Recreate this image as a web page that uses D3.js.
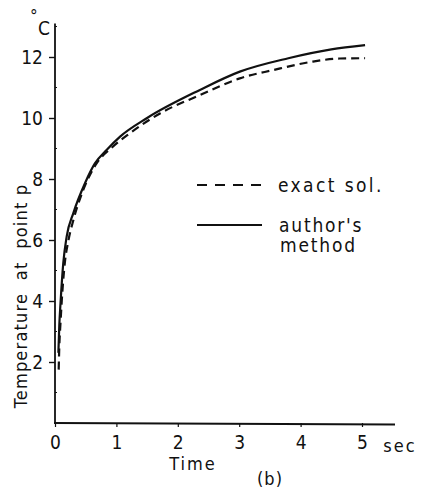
<!DOCTYPE html>
<html><head><meta charset="utf-8">
<script src="https://cdn.jsdelivr.net/npm/d3@7/dist/d3.min.js"></script>
<style>body{margin:0;background:#fff}svg{display:block}text{font-family:"DejaVu Sans Condensed","DejaVu Sans",sans-serif;font-stretch:condensed;fill:#111}</style>
</head><body>
<script>
const xTicks = [0,1,2,3,4,5];
const yTicks = [2,4,6,8,10,12];
const yMinor = [1,3,5,7,9,11,13];
const exactT = [0.06,0.07,0.09,0.11,0.16,0.22,0.30,0.46,0.68,0.92,1.22,1.71,2.36,3.01,3.55,4.2,4.64,5.05];
const exactV = [1.75,2.5,3.3,4.0,5.25,6.0,6.66,7.64,8.52,9.02,9.5,10.15,10.75,11.3,11.57,11.85,11.95,11.96];
const authT = [0.055,0.07,0.09,0.135,0.19,0.30,0.49,0.65,0.84,1.06,1.5,2.36,3.01,3.8,4.5,5.05];
const authV = [2.3,3.2,3.93,5.25,6.11,6.89,7.87,8.51,8.95,9.39,10.0,10.92,11.52,11.96,12.25,12.39];
const legendItems = ["exact sol.", "author's method"];

const W=430,H=490;
const svg=d3.select("body").append("svg").attr("width",W).attr("height",H);
const x=d3.scaleLinear().domain([0,5]).range([55,362]);
const y=d3.scaleLinear().domain([0,12]).range([423,57]);

// axes
const gx=svg.append("g").attr("transform","translate(0,423)")
  .call(d3.axisBottom(x).tickValues(xTicks).tickSize(4).tickPadding(9).tickFormat(d3.format("d")));
gx.select(".domain").remove();
svg.append("line").attr("x1",54).attr("x2",395).attr("y1",423).attr("y2",424.5).attr("stroke","#111").attr("stroke-width",1.8);
gx.selectAll("text").attr("font-size",19).attr("fill","#111");
gx.selectAll("line").attr("stroke","#111").attr("stroke-width",1.2);

const gy=svg.append("g").attr("transform","translate(55,0)")
  .call(d3.axisLeft(y).tickValues(yTicks).tickSize(6).tickPadding(6).tickFormat(d3.format("d")));
gy.select(".domain").remove();
svg.append("line").attr("x1",55).attr("x2",55).attr("y1",y(13.1)).attr("y2",424).attr("stroke","#111").attr("stroke-width",1.8);
gy.selectAll("text").attr("font-size",19).attr("fill","#111");
gy.selectAll("line").attr("stroke","#111").attr("stroke-width",1.4);
svg.append("g").selectAll("line").data(yMinor).join("line")
  .attr("x1",55).attr("x2",57).attr("y1",d=>y(d)).attr("y2",d=>y(d)).attr("stroke","#111").attr("stroke-width",1);

// labels
svg.append("text").attr("x",30).attr("y",22).attr("font-size",17).text("°");
svg.append("text").attr("x",38).attr("y",35).attr("font-size",19).text("C");
svg.append("text").attr("x",400).attr("y",452).attr("text-anchor","middle").attr("font-size",18).attr("letter-spacing",2).text("sec");
svg.append("text").attr("x",193).attr("y",470).attr("text-anchor","middle").attr("font-size",18).attr("letter-spacing",2).text("Time");
svg.append("text").attr("x",270).attr("y",485).attr("text-anchor","middle").attr("font-size",18).attr("letter-spacing",1).text("(b)");
svg.append("text").attr("transform","translate(27,296) rotate(-90)").attr("text-anchor","middle")
  .attr("font-size",18).attr("letter-spacing",1.2).attr("xml:space","preserve").text("Temperature  at  point p");

// curves
const line=d3.line().x(d=>x(d[0])).y(d=>y(d[1])).curve(d3.curveMonotoneX);
svg.append("path").datum(exactT.map((t,i)=>[t,exactV[i]])).attr("d",line)
  .attr("fill","none").attr("stroke","#111").attr("stroke-width",2.2).attr("stroke-dasharray","8,5");
svg.append("path").datum(authT.map((t,i)=>[t,authV[i]])).attr("d",line)
  .attr("fill","none").attr("stroke","#111").attr("stroke-width",2.2);

// legend
svg.append("line").attr("x1",197).attr("x2",262).attr("y1",185).attr("y2",185).attr("stroke","#111").attr("stroke-width",2.2).attr("stroke-dasharray","10,8");
svg.append("line").attr("x1",197).attr("x2",262).attr("y1",225).attr("y2",225).attr("stroke","#111").attr("stroke-width",2.2);
svg.append("text").attr("x",278).attr("y",192).attr("font-size",19).attr("letter-spacing",2.4).text(legendItems[0]);
const parts=legendItems[1].split(" ");
svg.append("text").attr("x",279).attr("y",232).attr("font-size",19).attr("letter-spacing",1.8).text(parts[0]);
svg.append("text").attr("x",280).attr("y",252).attr("font-size",19).attr("letter-spacing",1.8).text(parts[1]);
</script>
</body></html>
